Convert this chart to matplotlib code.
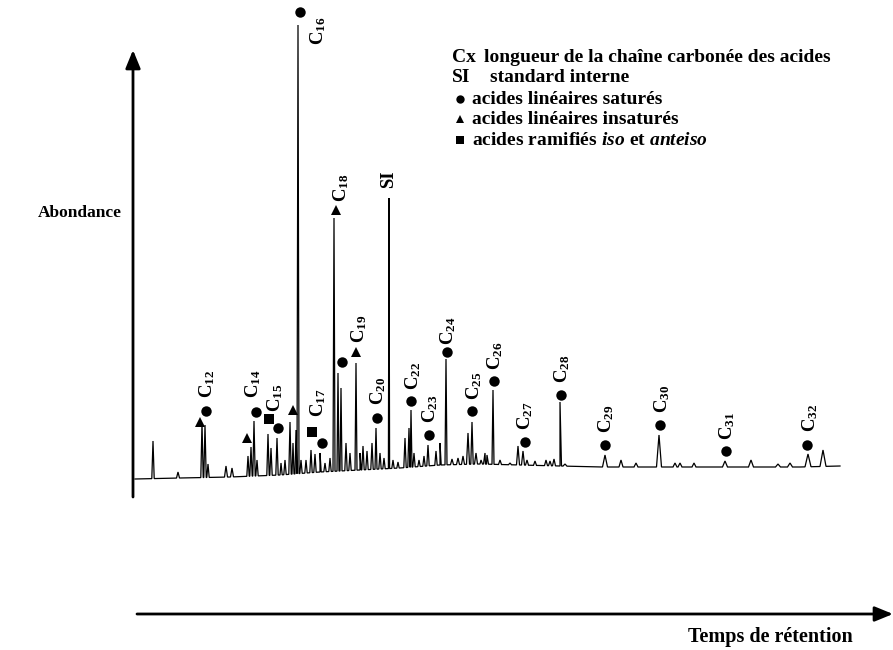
import numpy as np
import matplotlib
matplotlib.use("Agg")
import matplotlib.pyplot as plt

plt.rcParams['font.family'] = ['Liberation Serif', 'DejaVu Serif']
plt.rcParams['mathtext.fontset'] = 'custom'
plt.rcParams['mathtext.rm'] = 'Liberation Serif:bold'
plt.rcParams['mathtext.bf'] = 'Liberation Serif:bold'
plt.rcParams['mathtext.it'] = 'Liberation Serif:italic:bold'

# ---- data (retention position, abundance) ----
base_rt = [135, 180, 230, 280, 320, 360, 400, 440, 480, 520, 560, 600, 700, 800, 840]
base_ab = [1, 2, 3, 5, 8, 10, 12, 15, 16, 15, 14, 13, 13, 13, 14]

peak_rt = [153, 178, 202, 205, 208, 226, 232, 248, 251, 254, 257, 268, 271, 277, 281,
           285, 290, 293, 296, 298, 301, 306, 311, 315, 320, 325, 330, 334, 338, 341,
           346, 350, 356, 360, 363, 367, 372, 376, 380, 384, 389, 393, 398, 405, 409,
           411, 414, 419, 424, 428, 436, 440, 446, 452, 458, 463, 468, 472, 476, 481,
           485, 487, 493, 500, 510, 518, 523, 527, 535, 546, 550, 554, 560, 565, 605,
           621, 636, 659, 675, 680, 694, 725, 751, 778, 790, 808, 823]
peak_ab = [37, 6, 55, 53, 14, 12, 10, 22, 31, 57, 18, 44, 30, 40, 15,
           18, 56, 35, 48, 453, 18, 18, 28, 24, 25, 15, 20, 260, 105, 90,
           35, 25, 115, 25, 32, 27, 35, 50, 25, 20, 280, 18, 16, 40, 50,
           68, 25, 18, 22, 33, 27, 35, 119, 19, 20, 22, 45, 56, 25, 18,
           25, 23, 88, 18, 15, 32, 27, 18, 17, 18, 17, 19, 76, 14, 23,
           18, 15, 43, 15, 15, 15, 17, 18, 14, 15, 24, 28]
peak_hw = [1.2, 1.5, 1.2, 1.2, 1.2, 1.5, 1.5, 1.2, 1.2, 1.2, 1.2, 1.2, 1.2, 1.2, 1.2,
           1.2, 1.2, 1.0, 1.0, 1.0, 1.2, 1.2, 1.2, 1.2, 1.2, 1.2, 1.2, 1.0, 1.0, 1.0,
           1.2, 1.2, 1.0, 1.2, 1.2, 1.2, 1.2, 1.0, 1.2, 1.2, 0.6, 1.2, 1.2, 1.2, 1.2,
           1.0, 1.2, 1.2, 1.2, 1.2, 1.2, 1.2, 1.0, 1.5, 1.5, 1.5, 1.5, 1.2, 1.5, 1.5,
           1.5, 1.5, 1.0, 1.5, 1.5, 1.5, 1.5, 1.5, 1.5, 1.5, 1.5, 1.5, 1.5, 2.0, 2.5,
           2.0, 2.0, 2.5, 2.0, 2.0, 2.0, 2.5, 2.5, 2.5, 2.5, 3.0, 3.0]

# markers (position, abundance)
circle_rt = [206, 256, 278, 300, 322, 342, 377, 411, 429, 447, 472, 494, 525, 561, 605, 660, 726, 807]
circle_ab = [69, 68, 52, 468, 37, 118, 62, 79, 45, 128, 69, 99, 38, 85, 35, 55, 29, 35]
tri_rt = [200, 247, 293, 336, 356]
tri_ab = [58, 42, 70, 270, 128]
square_rt = [269, 312]
square_ab = [61, 48]

# labels: carbon number, position, abundance of label foot
lab_txt = ['12', '14', '15', '16', '17', '18', '19', '20', '22', '23', '24', '25', '26',
           '27', '28', '29', '30', '31', '32']
lab_rt = [207, 253, 275, 318, 318, 341, 359, 378, 413, 430, 448, 474, 495, 525, 562, 606, 662, 727, 810]
lab_ab = [82, 82, 68, 435, 63, 278, 137, 75, 90, 57, 135, 80, 110, 50, 97, 47, 67, 40, 48]

legend_lines = ['longueur de la chaîne carbonée des acides', 'standard interne',
                'acides linéaires saturés', 'acides linéaires insaturés']

# ---- figure ----
fig = plt.figure(figsize=(8.93, 6.5), dpi=100)
ax = fig.add_axes([0, 0, 1, 1])
ax.set_xlim(0, 893)
ax.set_ylim(-170, 480)
ax.axis('off')

# build trace: baseline points plus a narrow spike for every peak
pts = list(zip(base_rt, base_ab))
for rt, ab, hw in zip(peak_rt, peak_ab, peak_hw):
    b1 = np.interp(rt - hw, base_rt, base_ab)
    b2 = np.interp(rt + hw, base_rt, base_ab)
    pts.append((rt - hw, b1))
    pts.append((rt, ab + 2))
    pts.append((rt + hw, b2))
pts.sort(key=lambda p: p[0])
tx = [p[0] for p in pts]
ty = [p[1] for p in pts]
ax.plot(tx, ty, color='black', lw=0.9, solid_joinstyle='miter')

ax.plot(circle_rt, circle_ab, 'o', color='black', ms=7.5, mew=0)
ax.plot(tri_rt, tri_ab, '^', color='black', ms=7.5, mew=0)
ax.plot(square_rt, square_ab, 's', color='black', ms=7.5, mew=0)

for t, x, y in zip(lab_txt, lab_rt, lab_ab):
    ax.text(x, y, r'$\mathbf{C}_{\mathbf{%s}}$' % t, rotation=90, ha='center', va='bottom',
            fontsize=13.5)
ax.text(389, 292, 'SI', rotation=90, ha='center', va='bottom', fontsize=13.5, fontweight='bold')

# axes arrows
ax.annotate('', xy=(133, 430), xytext=(133, -17),
            arrowprops=dict(arrowstyle='-|>,head_length=1.1,head_width=0.45', color='black', lw=2,
                            shrinkA=0, shrinkB=0))
ax.annotate('', xy=(893, -134), xytext=(137, -134),
            arrowprops=dict(arrowstyle='-|>,head_length=1.1,head_width=0.45', color='black', lw=2,
                            shrinkA=0, shrinkB=0))

ax.text(80, 267, 'Abondance', ha='center', va='center', fontsize=12.5, fontweight='bold')
ax.text(770, -157, 'Temps de rétention', ha='center', va='center', fontsize=14.5, fontweight='bold')

# legend block
fs = 14
ax.text(452, 418, 'Cx', ha='left', va='baseline', fontsize=fs, fontweight='bold')
ax.text(484, 418, legend_lines[0], ha='left', va='baseline', fontsize=fs, fontweight='bold')
ax.text(452, 398, 'SI', ha='left', va='baseline', fontsize=fs, fontweight='bold')
ax.text(490, 398, legend_lines[1], ha='left', va='baseline', fontsize=fs, fontweight='bold')
ax.plot([460], [381], 'o', color='black', ms=6, mew=0)
ax.text(472, 376, legend_lines[2], ha='left', va='baseline', fontsize=fs, fontweight='bold')
ax.plot([460], [361], '^', color='black', ms=6, mew=0)
ax.text(472, 356, legend_lines[3], ha='left', va='baseline', fontsize=fs, fontweight='bold')
ax.plot([460], [340], 's', color='black', ms=6, mew=0)
ax.text(472, 335, r'$\mathbf{acides\ ramifiés\ }\mathit{iso}\mathbf{\ et\ }\mathit{anteiso}$',
        ha='left', va='baseline', fontsize=fs)

fig.savefig('out.png', dpi=100)
